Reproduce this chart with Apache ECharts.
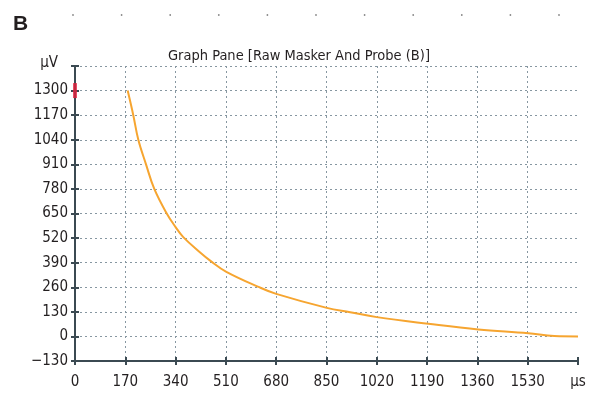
<!DOCTYPE html>
<html><head><meta charset="utf-8">
<script src="https://cdn.jsdelivr.net/npm/echarts@6/dist/echarts.min.js"></script>
<style>html,body{margin:0;padding:0;background:#fff}#c{width:598px;height:393px}</style>
</head><body><div id="c"></div>
<script>
// Data
var timeUs   = [178, 197, 214, 240, 268, 310, 340, 366, 422, 459, 510, 620, 680, 851, 930, 1020, 1194, 1363, 1532, 1620, 1700];
var voltUv   = [1300, 1170, 1040, 910, 780, 650, 578, 525, 445, 398, 343, 262, 225, 151, 128, 102, 67, 37, 17, 2, 0];
var cursorPt = [[0, 1300]];
var xTicks = {min: 0, max: 1700, step: 170, unit: 'μs'};
var yTicks = {min: -130, max: 1430, step: 130, unit: 'μV'};
var titleText = 'Graph Pane [Raw Masker And Probe (B)]';
var panelLetter = 'B';

var FONT = '"Liberation Sans Narrow", "DejaVu Sans Condensed", sans-serif';
var axisColor = '#3b4a52';
var gridColor = '#8797a1';
var textColor = '#231f20';

var chart = echarts.init(document.getElementById('c'), null, {renderer: 'canvas'});

var dots = [];
for (var i = 0; i < 11; i++) {
  dots.push({type: 'circle', shape: {cx: 73 + i * 48.6, cy: 15, r: 0.9}, style: {fill: '#888'}, silent: true});
}

var pts = timeUs.map(function (t, i) { return [t, voltUv[i]]; });

chart.setOption({
  animation: false,
  textStyle: {fontFamily: FONT},
  graphic: dots.concat([
    {type: 'text', left: 13, top: 14, style: {text: panelLetter, font: 'bold 21px "Liberation Sans", sans-serif', fill: textColor}},
    {type: 'text', left: 'center', top: 49, style: {text: titleText, font: '14.5px ' + FONT, fill: textColor}}
  ]),
  grid: {left: 75, right: 20, top: 66, bottom: 32},
  xAxis: [{
    type: 'value', min: xTicks.min, max: xTicks.max, interval: xTicks.step,
    axisLine: {show: true, onZero: false, lineStyle: {color: axisColor, width: 2}},
    axisTick: {show: true, length: 4, lineStyle: {color: axisColor, width: 2}},
    axisLabel: {color: textColor, fontSize: 15, fontFamily: FONT, margin: 14,
      formatter: function (v) { return v === xTicks.max ? xTicks.unit : String(v); }},
    splitLine: {show: true, showMaxLine: false, lineStyle: {color: gridColor, type: [2, 3], width: 1}}
  }, {
    type: 'value', min: xTicks.min, max: xTicks.max, interval: xTicks.step, position: 'bottom',
    axisLine: {show: false, onZero: false}, axisLabel: {show: false}, splitLine: {show: false},
    axisTick: {show: true, inside: true, length: 4, lineStyle: {color: axisColor, width: 2}}
  }],
  yAxis: [{
    type: 'value', min: yTicks.min, max: yTicks.max, interval: yTicks.step,
    name: yTicks.unit, nameLocation: 'end', nameGap: -5,
    nameTextStyle: {color: textColor, fontSize: 15, fontFamily: FONT, align: 'right', padding: [0, 17, 0, 0]},
    axisLine: {show: true, onZero: false, lineStyle: {color: axisColor, width: 2}},
    axisTick: {show: true, length: 4, lineStyle: {color: axisColor, width: 2}},
    axisLabel: {color: textColor, fontSize: 15, fontFamily: FONT, margin: 7,
      formatter: function (v) { return v === yTicks.max ? '' : (v < 0 ? '\u2212' + Math.abs(v) : String(v)); }},
    splitLine: {show: true, lineStyle: {color: gridColor, type: [2, 3], width: 1}}
  }, {
    type: 'value', min: yTicks.min, max: yTicks.max, interval: yTicks.step, position: 'left',
    axisLine: {show: false, onZero: false}, axisLabel: {show: false}, splitLine: {show: false},
    axisTick: {show: true, inside: true, length: 4, lineStyle: {color: axisColor, width: 2}}
  }],
  series: [{
    type: 'line', data: pts, showSymbol: false, smooth: 0.4,
    lineStyle: {color: '#f6a530', width: 2}, z: 3
  }, {
    type: 'scatter', data: cursorPt, symbol: 'rect', symbolSize: [4, 15],
    itemStyle: {color: '#e3203d'}, z: 5
  }]
});
</script></body></html>
